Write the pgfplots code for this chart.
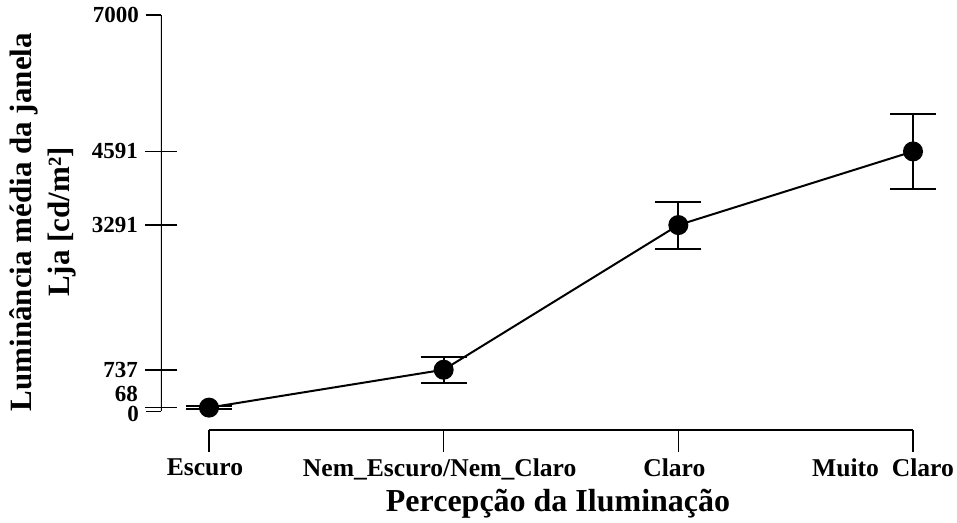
\documentclass[border=0pt]{standalone}
\usepackage{pgfplots}
\pgfplotsset{compat=1.18}
\usepackage{fontspec}
\setmainfont{Liberation Serif}

\pgfplotstableread{
x y err
0 68 25
1 737 230
2 3291 415
3 4591 662
}\lumdata

% common frame for the overlaid axes
\pgfplotsset{base/.style={
  scale only axis,
  width=376pt, height=207.5pt,
  xmin=-0.2045, xmax=3,
  ymin=-327, ymax=7000,
  axis line style={-,draw=none},
  tick style={black, line width=0.8pt},
}}

\begin{document}
\begin{tikzpicture}
  \bfseries
  % y axis with ticks, labels and title
  \begin{axis}[
    base,
    axis y line=left, axis x line=none,
    tick align=center, major tick length=16pt,
    ytick={68,737,3291,4591},
    yticklabels={\raisebox{3.3pt}[0pt][0pt]{68},737,3291,4591},
    extra y ticks={0,7000},
    extra y tick labels={\raisebox{-4.8pt}[0pt][0pt]{0},7000},
    extra y tick style={tick align=outside, major tick length=7.5pt},
    yticklabel style={font=\fontsize{11.5}{12}\selectfont\bfseries},
    ylabel={Luminância média da janela\\Lja [cd/m²]},
    ylabel style={font=\fontsize{15.5}{19}\selectfont\bfseries, align=center,
      at={(axis description cs:-0.157,0.501)}, anchor=center},
  ]
  \draw[line width=0.8pt] (axis cs:-0.2045,0) -- (axis cs:-0.2045,7000);
  \end{axis}
  % data and x axis
  \begin{axis}[
    base,
    axis x line=bottom, axis y line=none,
    tick align=outside, major tick length=11pt,
    xtick={0,1,2,3},
    xticklabels={Escuro,Nem\_Escuro/Nem\_Claro,Claro,
      \makebox[0pt]{\hspace*{-26pt}Muito~~Claro}},
    xticklabel style={font=\fontsize{12.8}{13}\selectfont\bfseries, xshift=-2pt},
    xlabel={Percepção da Iluminação},
    xlabel style={font=\fontsize{16}{18}\selectfont\bfseries,
      at={(axis description cs:0.528,-0.178)}, anchor=center},
    clip=false,
  ]
  \draw[line width=0.8pt] (axis cs:0,-327) -- (axis cs:3,-327);

  \addplot[black, line width=1pt, mark=*, mark size=4.5pt,
    error bars/.cd, y dir=both, y explicit,
    error bar style={line width=1pt},
    error mark options={rotate=90, mark size=11.5pt, line width=1pt}]
    table[x=x, y=y, y error=err] {\lumdata};
  \end{axis}
  \pgfresetboundingbox
  \path[use as bounding box] (-80.5pt,-46.5pt) rectangle (398pt,215pt);
\end{tikzpicture}
\end{document}
